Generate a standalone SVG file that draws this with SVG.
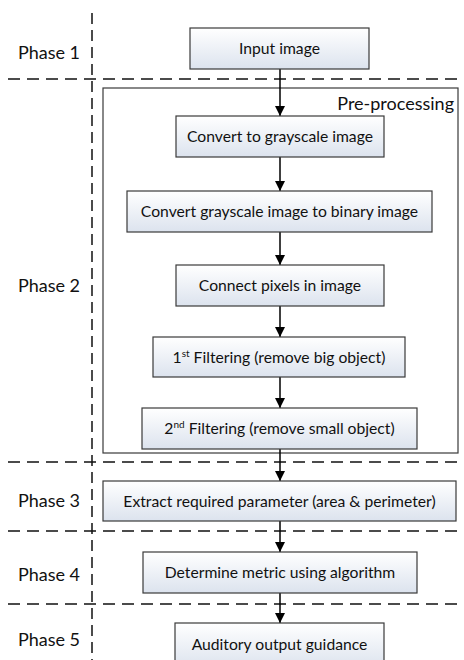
<svg xmlns="http://www.w3.org/2000/svg" width="464" height="660" viewBox="0 0 464 660">
  <style>
    .box { fill: url(#boxFill); stroke: #3a3a3a; stroke-width: 1.2; }
    .label { font-family: Lato, "Liberation Sans", sans-serif; font-size: 15.7px; fill: #111; text-anchor: middle; }
    .phase { font-family: Lato, "Liberation Sans", sans-serif; font-size: 18px; fill: #111; text-anchor: end; }
    .sep { stroke: #111; stroke-width: 1.5; fill: none; }
    .hsep { stroke-dasharray: 12 7; }
    .vsep { stroke-dasharray: 11 6; }
    .flow { stroke: #000; stroke-width: 1.5; fill: none; marker-end: url(#head); }
  </style>
  <defs>
    <linearGradient id="boxFill" x1="0" y1="0" x2="0" y2="1">
      <stop offset="0" stop-color="#ffffff"/>
      <stop offset="1" stop-color="#dce3ee"/>
    </linearGradient>
    <marker id="head" markerWidth="10" markerHeight="10" viewBox="0 0 10 10" refX="10" refY="5" orient="auto" markerUnits="userSpaceOnUse">
      <path d="M0,0 L10,5 L0,10 Z" fill="#000"/>
    </marker>
  </defs>

  <!-- phase separators -->
  <g id="separators">
    <line class="sep vsep" x1="92" y1="13" x2="92" y2="660"/>
    <line class="sep hsep" x1="8" y1="79" x2="464" y2="79"/>
    <line class="sep hsep" x1="8" y1="462" x2="464" y2="462"/>
    <line class="sep hsep" x1="8" y1="531" x2="464" y2="531"/>
    <line class="sep hsep" x1="8" y1="604" x2="464" y2="604"/>
  </g>

  <!-- phase labels -->
  <g id="phase-labels">
    <text class="phase" x="80" y="59">Phase 1</text>
    <text class="phase" x="80" y="292">Phase 2</text>
    <text class="phase" x="80" y="507">Phase 3</text>
    <text class="phase" x="80" y="581">Phase 4</text>
    <text class="phase" x="80" y="646">Phase 5</text>
  </g>

  <!-- pre-processing container -->
  <g id="preprocessing">
    <rect x="103" y="88" width="355" height="365" fill="none" stroke="#3a3a3a" stroke-width="1.2"/>
    <text class="phase" x="454" y="110">Pre-processing</text>
  </g>

  <!-- connectors -->
  <g id="connectors">
    <line class="flow" x1="280" y1="69" x2="280" y2="116"/>
    <line class="flow" x1="280" y1="157" x2="280" y2="191"/>
    <line class="flow" x1="280" y1="232" x2="280" y2="265"/>
    <line class="flow" x1="280" y1="306" x2="280" y2="337"/>
    <line class="flow" x1="280" y1="377" x2="280" y2="408"/>
    <line class="flow" x1="280" y1="449" x2="280" y2="481"/>
    <line class="flow" x1="280" y1="521" x2="280" y2="552"/>
    <line class="flow" x1="280" y1="593" x2="280" y2="623"/>
  </g>

  <!-- process steps -->
  <g id="input-image">
    <rect class="box" x="190" y="28" width="179" height="41"/>
    <text class="label" x="279.5" y="54">Input image</text>
  </g>
  <g id="grayscale">
    <rect class="box" x="176" y="116" width="208" height="41"/>
    <text class="label" x="280" y="142">Convert to grayscale image</text>
  </g>
  <g id="binary">
    <rect class="box" x="127" y="191" width="305" height="41"/>
    <text class="label" x="279.5" y="217">Convert grayscale image to binary image</text>
  </g>
  <g id="connect-pixels">
    <rect class="box" x="176" y="265" width="208" height="41"/>
    <text class="label" x="280" y="291">Connect pixels in image</text>
  </g>
  <g id="filter-1">
    <rect class="box" x="153" y="337" width="252" height="40"/>
    <text class="label" x="279" y="362.5">1<tspan font-size="10" dy="-6">st</tspan><tspan dy="6"> Filtering (remove big object)</tspan></text>
  </g>
  <g id="filter-2">
    <rect class="box" x="142" y="408" width="275" height="41"/>
    <text class="label" x="279.5" y="434">2<tspan font-size="10" dy="-6">nd</tspan><tspan dy="6"> Filtering (remove small object)</tspan></text>
  </g>
  <g id="extract">
    <rect class="box" x="103" y="481" width="353" height="40"/>
    <text class="label" x="279.5" y="506.5">Extract required parameter (area &amp; perimeter)</text>
  </g>
  <g id="metric">
    <rect class="box" x="143" y="552" width="274" height="41"/>
    <text class="label" x="280" y="578">Determine metric using algorithm</text>
  </g>
  <g id="auditory">
    <rect class="box" x="175" y="623" width="209" height="45"/>
    <text class="label" x="279.5" y="649.5">Auditory output guidance</text>
  </g>
</svg>
